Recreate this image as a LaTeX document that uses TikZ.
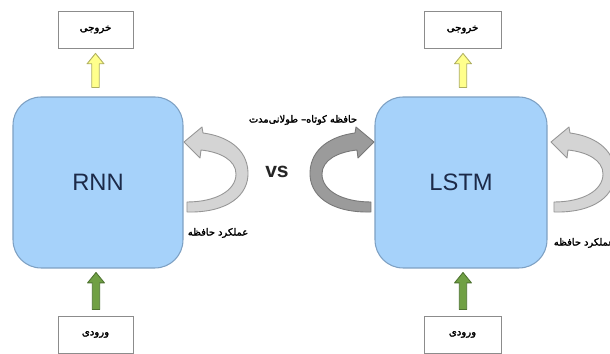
\documentclass[tikz,border=0pt]{standalone}
\usepackage{fontspec}
\setmainfont{Liberation Sans}
\newfontfamily\fa[Script=Arabic,FakeBold=2.2]{DejaVu Sans}
\TeXXeTstate=1
\usetikzlibrary{calc}
\definecolor{boxblue}{RGB}{166,210,250}
\definecolor{boxedge}{RGB}{125,160,195}
\definecolor{navy}{RGB}{28,42,72}
\definecolor{yel}{RGB}{255,255,140}
\definecolor{yeledge}{RGB}{175,175,95}
\definecolor{grn}{RGB}{112,160,68}
\definecolor{grnedge}{RGB}{78,115,48}
\definecolor{lgray}{RGB}{212,212,212}
\definecolor{lgedge}{RGB}{150,150,150}
\definecolor{dgray}{RGB}{155,155,155}
\definecolor{dgedge}{RGB}{120,120,120}
\newcommand\fatext[1]{{\fa\beginR #1\endR}}
\newcommand\uparr[3]{% style, bottom coord, tip coord
  \draw[#1] let \p1=(#2), \p2=(#3) in
    (\x1-2.1pt,\y1) -- (\x1-2.1pt,\y2-5.9pt) -- (\x1-4.8pt,\y2-5.9pt) -- (\x2,\y2)
    -- (\x1+4.8pt,\y2-5.9pt) -- (\x1+2.1pt,\y2-5.9pt) -- (\x1+2.1pt,\y1) -- cycle;}
\begin{document}
\begin{tikzpicture}[x=0.02cm,y=-0.02cm,
  core/.style={draw=boxedge,line width=0.6pt,fill=boxblue,rounded corners=0.56cm,
    minimum height=3.42cm,text=navy,font=\fontsize{13.5}{15}\selectfont},
  iobox/.style={draw=black!45,line width=0.5pt,fill=white,minimum height=0.74cm,
    font=\fontsize{5.8}{7}\selectfont},
  lbl/.style={font=\fontsize{5.6}{7}\selectfont,inner sep=0pt},
  yarr/.style={fill=yel,draw=yeledge,line width=0.5pt,line join=round},
  garr/.style={fill=grn,draw=grnedge,line width=0.5pt,line join=round},
  lloop/.style={fill=lgray,draw=lgedge,line width=0.5pt,line join=round},
  dloop/.style={fill=dgray,draw=dgedge,line width=0.5pt,line join=round}]
\useasboundingbox (0,0) rectangle (610,354);
\clip (0,0) rectangle (610,354);
\fill[white] (0,0) rectangle (610,354);
% main boxes
\node[core,minimum width=3.4cm] (rnn) at (98,182.5) {RNN};
\node[core,minimum width=3.44cm] (lstm) at (461,182.5) {LSTM};
% output / input boxes
\node[iobox,minimum width=1.5cm] (rout) at (95.5,29.5) {\fatext{خروجی}};
\node[iobox,minimum width=1.54cm] (lout) at (462.5,29.5) {\fatext{خروجی}};
\node[iobox,minimum width=1.5cm] (rin) at (95.5,334.5) {\fatext{ورودی}};
\node[iobox,minimum width=1.54cm] (lin) at (462.5,334.5) {\fatext{ورودی}};
% block arrows
\coordinate (ryb) at ($(rnn.north)+(-2.5,-9)$);
\coordinate (ryt) at ($(rout.south)+(0,5)$);
\uparr{yarr}{ryb}{ryt}
\coordinate (rgb) at ($(rin.north)+(0.5,-6)$);
\coordinate (rgt) at ($(rnn.south)+(-2,4)$);
\uparr{garr}{rgb}{rgt}
\coordinate (lyb) at ($(lstm.north)+(2,-9)$);
\coordinate (lyt) at ($(lout.south)+(0.5,5)$);
\uparr{yarr}{lyb}{lyt}
\coordinate (lgb) at ($(lin.north)+(0.5,-6)$);
\coordinate (lgt) at ($(lstm.south)+(2,4)$);
\uparr{garr}{lgb}{lgt}
% loop arrows
\draw[lloop] (187,212) .. controls (228,213) and (249,195) .. (248,172)
  .. controls (247,148) and (226,136) .. (203,133) -- (202,127) -- (184,142)
  -- (200,158) -- (201,150) .. controls (220,152) and (236,160) .. (236,174)
  .. controls (236,191) and (215,202) .. (187,202) -- cycle;
\begin{scope}[xshift=367*0.02cm]
\draw[lloop] (187,212) .. controls (228,213) and (249,195) .. (248,172)
  .. controls (247,148) and (226,136) .. (203,133) -- (202,127) -- (184,142)
  -- (200,158) -- (201,150) .. controls (220,152) and (236,160) .. (236,174)
  .. controls (236,191) and (215,202) .. (187,202) -- cycle;
\end{scope}
\begin{scope}[xshift=558*0.02cm,xscale=-1]
\draw[dloop] (187,212) .. controls (228,213) and (249,195) .. (248,172)
  .. controls (247,148) and (226,136) .. (203,133) -- (202,127) -- (184,142)
  -- (200,158) -- (201,150) .. controls (220,152) and (236,160) .. (236,174)
  .. controls (236,191) and (215,202) .. (187,202) -- cycle;
\end{scope}
% labels
\node[lbl] (rmem) at (218,233) {\fatext{عملکرد حافظه}};
\node[lbl] (lmem) at (584,243) {\fatext{عملکرد حافظه}};
\node[lbl] (lsm) at (303,120) {\fatext{حافظه کوتاه– طولانی‌مدت}};
\node[font=\fontsize{12}{13}\selectfont\bfseries,text=black!85] (vs) at (277,172) {vs};
\end{tikzpicture}
\end{document}
